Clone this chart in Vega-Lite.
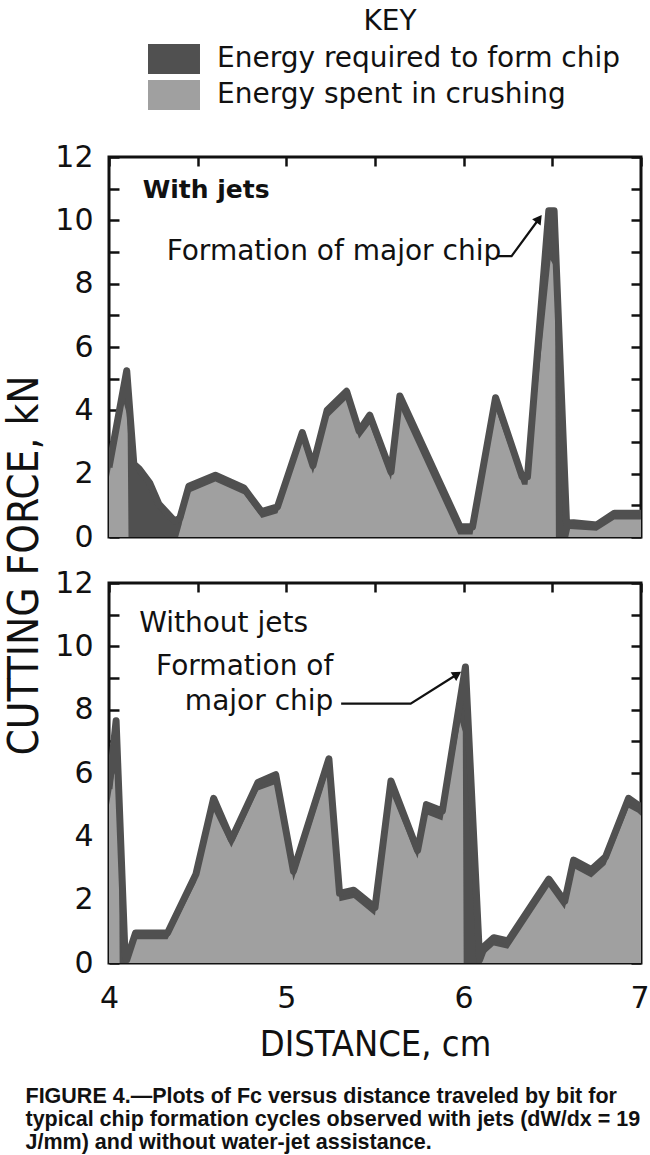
{
  "$schema": "https://vega.github.io/schema/vega-lite/v6.json",
  "background": "white",
  "padding": {"left": 1, "top": 8, "right": 0, "bottom": 5},
  "bounds": "flush",
  "spacing": 46,
  "datasets": {
    "curves": [
      {"panel":"with","series":"chip","x":4.00,"y":2.2},{"panel":"with","series":"chip","x":4.10,"y":5.25},{"panel":"with","series":"chip","x":4.14,"y":2.3},{"panel":"with","series":"chip","x":4.17,"y":2.15},{"panel":"with","series":"chip","x":4.23,"y":1.7},{"panel":"with","series":"chip","x":4.28,"y":1.05},{"panel":"with","series":"chip","x":4.37,"y":0.5},{"panel":"with","series":"chip","x":4.40,"y":0.6},{"panel":"with","series":"chip","x":4.45,"y":1.6},{"panel":"with","series":"chip","x":4.60,"y":1.95},{"panel":"with","series":"chip","x":4.76,"y":1.55},{"panel":"with","series":"chip","x":4.86,"y":0.8},{"panel":"with","series":"chip","x":4.95,"y":0.95},{"panel":"with","series":"chip","x":5.09,"y":3.3},{"panel":"with","series":"chip","x":5.15,"y":2.25},{"panel":"with","series":"chip","x":5.23,"y":4.0},{"panel":"with","series":"chip","x":5.34,"y":4.6},{"panel":"with","series":"chip","x":5.41,"y":3.35},{"panel":"with","series":"chip","x":5.47,"y":3.85},{"panel":"with","series":"chip","x":5.59,"y":2.05},{"panel":"with","series":"chip","x":5.64,"y":4.45},{"panel":"with","series":"chip","x":5.98,"y":0.32},{"panel":"with","series":"chip","x":6.05,"y":0.32},{"panel":"with","series":"chip","x":6.18,"y":4.4},{"panel":"with","series":"chip","x":6.33,"y":1.9},{"panel":"with","series":"chip","x":6.36,"y":1.9},{"panel":"with","series":"chip","x":6.48,"y":10.3},{"panel":"with","series":"chip","x":6.51,"y":10.3},{"panel":"with","series":"chip","x":6.58,"y":0.44},{"panel":"with","series":"chip","x":6.62,"y":0.45},{"panel":"with","series":"chip","x":6.75,"y":0.38},{"panel":"with","series":"chip","x":6.85,"y":0.75},{"panel":"with","series":"chip","x":7.00,"y":0.75},
      {"panel":"with","series":"crush","x":4.00,"y":1.9},{"panel":"with","series":"crush","x":4.08,"y":4.3},{"panel":"with","series":"crush","x":4.10,"y":3.9},{"panel":"with","series":"crush","x":4.105,"y":3.5},{"panel":"with","series":"crush","x":4.11,"y":0},{"panel":"with","series":"crush","x":4.39,"y":0},{"panel":"with","series":"crush","x":4.41,"y":0.4},{"panel":"with","series":"crush","x":4.45,"y":1.4},{"panel":"with","series":"crush","x":4.60,"y":1.75},{"panel":"with","series":"crush","x":4.76,"y":1.35},{"panel":"with","series":"crush","x":4.86,"y":0.6},{"panel":"with","series":"crush","x":4.95,"y":0.75},{"panel":"with","series":"crush","x":5.09,"y":3.0},{"panel":"with","series":"crush","x":5.15,"y":2.0},{"panel":"with","series":"crush","x":5.23,"y":3.75},{"panel":"with","series":"crush","x":5.34,"y":4.35},{"panel":"with","series":"crush","x":5.41,"y":3.1},{"panel":"with","series":"crush","x":5.47,"y":3.55},{"panel":"with","series":"crush","x":5.59,"y":1.8},{"panel":"with","series":"crush","x":5.64,"y":4.1},{"panel":"with","series":"crush","x":5.97,"y":0.08},{"panel":"with","series":"crush","x":6.05,"y":0.08},{"panel":"with","series":"crush","x":6.18,"y":4.05},{"panel":"with","series":"crush","x":6.33,"y":1.65},{"panel":"with","series":"crush","x":6.36,"y":1.65},{"panel":"with","series":"crush","x":6.49,"y":8.75},{"panel":"with","series":"crush","x":6.515,"y":8.5},{"panel":"with","series":"crush","x":6.52,"y":0},{"panel":"with","series":"crush","x":6.59,"y":0},{"panel":"with","series":"crush","x":6.60,"y":0.25},{"panel":"with","series":"crush","x":6.75,"y":0.2},{"panel":"with","series":"crush","x":6.85,"y":0.55},{"panel":"with","series":"crush","x":7.00,"y":0.55},
      {"panel":"without","series":"chip","x":4.00,"y":5.5},{"panel":"without","series":"chip","x":4.04,"y":7.65},{"panel":"without","series":"chip","x":4.09,"y":0.3},{"panel":"without","series":"chip","x":4.10,"y":0.1},{"panel":"without","series":"chip","x":4.15,"y":0.95},{"panel":"without","series":"chip","x":4.33,"y":0.95},{"panel":"without","series":"chip","x":4.49,"y":2.8},{"panel":"without","series":"chip","x":4.59,"y":5.2},{"panel":"without","series":"chip","x":4.69,"y":3.9},{"panel":"without","series":"chip","x":4.84,"y":5.7},{"panel":"without","series":"chip","x":4.94,"y":5.95},{"panel":"without","series":"chip","x":5.04,"y":2.9},{"panel":"without","series":"chip","x":5.24,"y":6.45},{"panel":"without","series":"chip","x":5.30,"y":2.2},{"panel":"without","series":"chip","x":5.38,"y":2.3},{"panel":"without","series":"chip","x":5.50,"y":1.75},{"panel":"without","series":"chip","x":5.59,"y":5.75},{"panel":"without","series":"chip","x":5.74,"y":3.55},{"panel":"without","series":"chip","x":5.79,"y":5.0},{"panel":"without","series":"chip","x":5.88,"y":4.8},{"panel":"without","series":"chip","x":6.01,"y":9.35},{"panel":"without","series":"chip","x":6.09,"y":0.1},{"panel":"without","series":"chip","x":6.12,"y":0.55},{"panel":"without","series":"chip","x":6.17,"y":0.8},{"panel":"without","series":"chip","x":6.25,"y":0.7},{"panel":"without","series":"chip","x":6.48,"y":2.65},{"panel":"without","series":"chip","x":6.57,"y":1.95},{"panel":"without","series":"chip","x":6.62,"y":3.25},{"panel":"without","series":"chip","x":6.72,"y":2.95},{"panel":"without","series":"chip","x":6.80,"y":3.35},{"panel":"without","series":"chip","x":6.93,"y":5.2},{"panel":"without","series":"chip","x":6.98,"y":5.0},{"panel":"without","series":"chip","x":7.00,"y":4.95},
      {"panel":"without","series":"crush","x":4.00,"y":5.0},{"panel":"without","series":"crush","x":4.03,"y":6.0},{"panel":"without","series":"crush","x":4.055,"y":5.5},{"panel":"without","series":"crush","x":4.06,"y":0},{"panel":"without","series":"crush","x":4.10,"y":0},{"panel":"without","series":"crush","x":4.11,"y":0.2},{"panel":"without","series":"crush","x":4.15,"y":0.75},{"panel":"without","series":"crush","x":4.33,"y":0.75},{"panel":"without","series":"crush","x":4.49,"y":2.55},{"panel":"without","series":"crush","x":4.59,"y":4.8},{"panel":"without","series":"crush","x":4.69,"y":3.65},{"panel":"without","series":"crush","x":4.84,"y":5.45},{"panel":"without","series":"crush","x":4.94,"y":5.65},{"panel":"without","series":"crush","x":5.04,"y":2.6},{"panel":"without","series":"crush","x":5.23,"y":5.95},{"panel":"without","series":"crush","x":5.30,"y":1.95},{"panel":"without","series":"crush","x":5.38,"y":2.05},{"panel":"without","series":"crush","x":5.50,"y":1.5},{"panel":"without","series":"crush","x":5.59,"y":5.35},{"panel":"without","series":"crush","x":5.74,"y":3.3},{"panel":"without","series":"crush","x":5.79,"y":4.7},{"panel":"without","series":"crush","x":5.88,"y":4.5},{"panel":"without","series":"crush","x":5.98,"y":7.6},{"panel":"without","series":"crush","x":5.995,"y":7.3},{"panel":"without","series":"crush","x":6.00,"y":0},{"panel":"without","series":"crush","x":6.10,"y":0},{"panel":"without","series":"crush","x":6.12,"y":0.3},{"panel":"without","series":"crush","x":6.17,"y":0.55},{"panel":"without","series":"crush","x":6.25,"y":0.45},{"panel":"without","series":"crush","x":6.48,"y":2.4},{"panel":"without","series":"crush","x":6.57,"y":1.7},{"panel":"without","series":"crush","x":6.62,"y":3.0},{"panel":"without","series":"crush","x":6.72,"y":2.7},{"panel":"without","series":"crush","x":6.80,"y":3.1},{"panel":"without","series":"crush","x":6.93,"y":4.9},{"panel":"without","series":"crush","x":6.98,"y":4.75},{"panel":"without","series":"crush","x":7.00,"y":4.65}
    ],
    "notes": [
      {"panel":"with","text":"With jets","x":4.19,"y":10.96},
      {"panel":"with","text":"Formation of major chip","x":4.325,"y":9.0},
      {"panel":"without","text":"Without jets","x":4.17,"y":10.69},
      {"panel":"without","text":"Formation of","x":5.265,"y":9.34},
      {"panel":"without","text":"major chip","x":5.265,"y":8.25}
    ],
    "leaders": [
      {"panel":"with","step":1,"x":6.193,"y":8.87},
      {"panel":"with","step":2,"x":6.27,"y":8.87},
      {"panel":"with","step":3,"x":6.425,"y":10.05},
      {"panel":"without","step":1,"x":5.309,"y":8.19},
      {"panel":"without","step":2,"x":5.701,"y":8.19},
      {"panel":"without","step":3,"x":5.964,"y":9.12}
    ]
  },
  "title": {
    "text": ["FIGURE 4.—Plots of Fc versus distance traveled by bit for", "typical chip formation cycles observed with jets (dW/dx = 19", "J/mm) and without water-jet assistance."],
    "orient": "bottom",
    "anchor": "start",
    "font": "Liberation Sans",
    "fontSize": 21.5,
    "fontWeight": "bold",
    "color": "#111",
    "lineHeight": 23,
    "dx": 24,
    "offset": 22
  },
  "vconcat": [
    {
      "width": 532,
      "height": 380,
      "layer": [
        {
          "data": {"name": "curves"},
          "transform": [{"filter": "datum.panel === 'with' && datum.series === 'chip'"}],
          "mark": {"type": "area", "interpolate": "linear", "clip": true},
          "encoding": {
            "x": {"field": "x", "type": "quantitative", "scale": {"domain": [4, 7], "nice": false, "zero": false}, "axis": null},
            "y": {"field": "y", "type": "quantitative", "stack": null, "scale": {"domain": [0, 12], "nice": false},
                  "axis": {"orient": "left", "values": [0,1,2,3,4,5,6,7,8,9,10,11,12], "labelExpr": "datum.value % 2 === 0 ? datum.label : ''", "tickSize": -10, "labelPadding": 26,
                           "title": "CUTTING FORCE, kN", "titleX": -85, "titleY": 408, "titleAngle": 270, "titleAlign": "center", "titleBaseline": "middle", "titleFontSize": 42}},
            "fill": {"field": "series", "type": "nominal", "scale": {"domain": ["chip", "crush"], "range": ["#505050", "#a0a0a0"]},
                     "legend": {"title": "KEY", "orient": "none", "legendX": 50, "legendY": -149, "direction": "vertical",
                                "labelExpr": "datum.label === 'chip' ? 'Energy required to form chip' : 'Energy spent in crushing'",
                                "symbolType": "M-1.733,-1H1.733V1H-1.733Z", "symbolSize": 900, "symbolStrokeWidth": 0, "symbolOpacity": 1,
                                "labelFont": "DejaVu Sans", "labelFontSize": 28, "labelColor": "#111", "labelOffset": 28, "labelLimit": 700,
                                "titleFont": "DejaVu Sans", "titleFontSize": 28, "titleFontWeight": "normal", "titleColor": "#111", "titleAnchor": "middle", "titlePadding": 8,
                                "rowPadding": 6, "padding": 0}}
          }
        },
        {
          "data": {"name": "curves"},
          "transform": [{"filter": "datum.panel === 'with' && datum.series === 'crush'"}],
          "mark": {"type": "area", "interpolate": "linear", "clip": true},
          "encoding": {
            "x": {"field": "x", "type": "quantitative", "scale": {"domain": [4, 7], "nice": false, "zero": false},
                  "axis": {"orient": "top", "values": [4, 4.5, 5, 5.5, 6, 6.5, 7], "labels": false, "tickSize": -9, "title": null}},
            "y": {"field": "y", "type": "quantitative", "stack": null, "scale": {"domain": [0, 12], "nice": false},
                  "axis": {"orient": "right", "values": [0,1,2,3,4,5,6,7,8,9,10,11,12], "labels": false, "tickSize": -10, "title": null}},
            "fill": {"field": "series", "type": "nominal", "scale": {"domain": ["chip", "crush"], "range": ["#505050", "#a0a0a0"]},
                     "legend": {"title": "KEY", "orient": "none", "legendX": 50, "legendY": -149, "direction": "vertical",
                                "labelExpr": "datum.label === 'chip' ? 'Energy required to form chip' : 'Energy spent in crushing'",
                                "symbolType": "M-1.733,-1H1.733V1H-1.733Z", "symbolSize": 900, "symbolStrokeWidth": 0, "symbolOpacity": 1,
                                "labelFont": "DejaVu Sans", "labelFontSize": 28, "labelColor": "#111", "labelOffset": 28, "labelLimit": 700,
                                "titleFont": "DejaVu Sans", "titleFontSize": 28, "titleFontWeight": "normal", "titleColor": "#111", "titleAnchor": "middle", "titlePadding": 8,
                                "rowPadding": 6, "padding": 0}}
          }
        },
        {
          "data": {"name": "curves"},
          "transform": [{"filter": "datum.panel === 'with' && datum.series === 'chip'"}],
          "mark": {"type": "line", "interpolate": "linear", "clip": true, "color": "#505050", "strokeWidth": 7, "strokeJoin": "round"},
          "encoding": {
            "x": {"field": "x", "type": "quantitative", "scale": {"domain": [4, 7], "nice": false, "zero": false}, "axis": null},
            "y": {"field": "y", "type": "quantitative", "scale": {"domain": [0, 12], "nice": false}, "axis": null}
          }
        },
        {
          "data": {"name": "notes"},
          "transform": [{"filter": "datum.panel === 'with' && datum.text === 'With jets'"}],
          "mark": {"type": "text", "align": "left", "baseline": "middle", "font": "DejaVu Sans", "fontSize": 25, "fontWeight": "bold", "color": "#111"},
          "encoding": {
            "x": {"field": "x", "type": "quantitative", "scale": {"domain": [4, 7], "nice": false, "zero": false}, "axis": null},
            "y": {"field": "y", "type": "quantitative", "scale": {"domain": [0, 12], "nice": false}, "axis": null},
            "text": {"field": "text"}
          }
        },
        {
          "data": {"name": "notes"},
          "transform": [{"filter": "datum.panel === 'with' && datum.text !== 'With jets'"}],
          "mark": {"type": "text", "align": "left", "baseline": "middle", "font": "DejaVu Sans", "fontSize": 28, "color": "#111"},
          "encoding": {
            "x": {"field": "x", "type": "quantitative", "scale": {"domain": [4, 7], "nice": false, "zero": false}, "axis": null},
            "y": {"field": "y", "type": "quantitative", "scale": {"domain": [0, 12], "nice": false}, "axis": null},
            "text": {"field": "text"}
          }
        },
        {
          "data": {"name": "leaders"},
          "transform": [{"filter": "datum.panel === 'with'"}],
          "mark": {"type": "line", "color": "#111", "strokeWidth": 2.2},
          "encoding": {
            "x": {"field": "x", "type": "quantitative", "scale": {"domain": [4, 7], "nice": false, "zero": false}, "axis": null},
            "y": {"field": "y", "type": "quantitative", "scale": {"domain": [0, 12], "nice": false}, "axis": null},
            "order": {"field": "step"}
          }
        },
        {
          "data": {"name": "leaders"},
          "transform": [{"filter": "datum.panel === 'with' && datum.step === 3"}],
          "mark": {"type": "point", "shape": "triangle-up", "filled": true, "color": "#111", "size": 110, "angle": 36, "opacity": 1},
          "encoding": {
            "x": {"field": "x", "type": "quantitative", "scale": {"domain": [4, 7], "nice": false, "zero": false}, "axis": null},
            "y": {"field": "y", "type": "quantitative", "scale": {"domain": [0, 12], "nice": false}, "axis": null}
          }
        }
      ],
      "resolve": {"axis": {"x": "independent", "y": "independent"}}
    },
    {
      "width": 532,
      "height": 380,
      "layer": [
        {
          "data": {"name": "curves"},
          "transform": [{"filter": "datum.panel === 'without' && datum.series === 'chip'"}],
          "mark": {"type": "area", "interpolate": "linear", "clip": true},
          "encoding": {
            "x": {"field": "x", "type": "quantitative", "scale": {"domain": [4, 7], "nice": false, "zero": false},
                  "axis": {"orient": "bottom", "values": [4, 5, 6, 7], "ticks": false, "labelPadding": 20, "labelFlush": false,
                           "labelAlign": {"condition": {"test": "datum.value === 7", "value": "right"}, "value": "center"},
                           "labelOffset": {"condition": {"test": "datum.value === 7", "value": 8}, "value": 0},
                           "title": "DISTANCE, cm", "titleFontSize": 36, "titlePadding": 14}},
            "y": {"field": "y", "type": "quantitative", "stack": null, "scale": {"domain": [0, 12], "nice": false},
                  "axis": {"orient": "left", "values": [0,1,2,3,4,5,6,7,8,9,10,11,12], "labelExpr": "datum.value % 2 === 0 ? datum.label : ''", "tickSize": -10, "labelPadding": 26, "title": null}},
            "fill": {"field": "series", "type": "nominal", "scale": {"domain": ["chip", "crush"], "range": ["#505050", "#a0a0a0"]},
                     "legend": {"title": "KEY", "orient": "none", "legendX": 50, "legendY": -149, "direction": "vertical",
                                "labelExpr": "datum.label === 'chip' ? 'Energy required to form chip' : 'Energy spent in crushing'",
                                "symbolType": "M-1.733,-1H1.733V1H-1.733Z", "symbolSize": 900, "symbolStrokeWidth": 0, "symbolOpacity": 1,
                                "labelFont": "DejaVu Sans", "labelFontSize": 28, "labelColor": "#111", "labelOffset": 28, "labelLimit": 700,
                                "titleFont": "DejaVu Sans", "titleFontSize": 28, "titleFontWeight": "normal", "titleColor": "#111", "titleAnchor": "middle", "titlePadding": 8,
                                "rowPadding": 6, "padding": 0}}
          }
        },
        {
          "data": {"name": "curves"},
          "transform": [{"filter": "datum.panel === 'without' && datum.series === 'crush'"}],
          "mark": {"type": "area", "interpolate": "linear", "clip": true},
          "encoding": {
            "x": {"field": "x", "type": "quantitative", "scale": {"domain": [4, 7], "nice": false, "zero": false},
                  "axis": {"orient": "top", "values": [4, 4.5, 5, 5.5, 6, 6.5, 7], "labels": false, "tickSize": -9, "title": null}},
            "y": {"field": "y", "type": "quantitative", "stack": null, "scale": {"domain": [0, 12], "nice": false},
                  "axis": {"orient": "right", "values": [0,1,2,3,4,5,6,7,8,9,10,11,12], "labels": false, "tickSize": -10, "title": null}},
            "fill": {"field": "series", "type": "nominal", "scale": {"domain": ["chip", "crush"], "range": ["#505050", "#a0a0a0"]},
                     "legend": {"title": "KEY", "orient": "none", "legendX": 50, "legendY": -149, "direction": "vertical",
                                "labelExpr": "datum.label === 'chip' ? 'Energy required to form chip' : 'Energy spent in crushing'",
                                "symbolType": "M-1.733,-1H1.733V1H-1.733Z", "symbolSize": 900, "symbolStrokeWidth": 0, "symbolOpacity": 1,
                                "labelFont": "DejaVu Sans", "labelFontSize": 28, "labelColor": "#111", "labelOffset": 28, "labelLimit": 700,
                                "titleFont": "DejaVu Sans", "titleFontSize": 28, "titleFontWeight": "normal", "titleColor": "#111", "titleAnchor": "middle", "titlePadding": 8,
                                "rowPadding": 6, "padding": 0}}
          }
        },
        {
          "data": {"name": "curves"},
          "transform": [{"filter": "datum.panel === 'without' && datum.series === 'chip'"}],
          "mark": {"type": "line", "interpolate": "linear", "clip": true, "color": "#505050", "strokeWidth": 7, "strokeJoin": "round"},
          "encoding": {
            "x": {"field": "x", "type": "quantitative", "scale": {"domain": [4, 7], "nice": false, "zero": false}, "axis": null},
            "y": {"field": "y", "type": "quantitative", "scale": {"domain": [0, 12], "nice": false}, "axis": null}
          }
        },
        {
          "data": {"name": "notes"},
          "transform": [{"filter": "datum.panel === 'without' && datum.text === 'Without jets'"}],
          "mark": {"type": "text", "align": "left", "baseline": "middle", "font": "DejaVu Sans", "fontSize": 28, "color": "#111"},
          "encoding": {
            "x": {"field": "x", "type": "quantitative", "scale": {"domain": [4, 7], "nice": false, "zero": false}, "axis": null},
            "y": {"field": "y", "type": "quantitative", "scale": {"domain": [0, 12], "nice": false}, "axis": null},
            "text": {"field": "text"}
          }
        },
        {
          "data": {"name": "notes"},
          "transform": [{"filter": "datum.panel === 'without' && datum.text !== 'Without jets'"}],
          "mark": {"type": "text", "align": "right", "baseline": "middle", "font": "DejaVu Sans", "fontSize": 28, "color": "#111"},
          "encoding": {
            "x": {"field": "x", "type": "quantitative", "scale": {"domain": [4, 7], "nice": false, "zero": false}, "axis": null},
            "y": {"field": "y", "type": "quantitative", "scale": {"domain": [0, 12], "nice": false}, "axis": null},
            "text": {"field": "text"}
          }
        },
        {
          "data": {"name": "leaders"},
          "transform": [{"filter": "datum.panel === 'without'"}],
          "mark": {"type": "line", "color": "#111", "strokeWidth": 2.2},
          "encoding": {
            "x": {"field": "x", "type": "quantitative", "scale": {"domain": [4, 7], "nice": false, "zero": false}, "axis": null},
            "y": {"field": "y", "type": "quantitative", "scale": {"domain": [0, 12], "nice": false}, "axis": null},
            "order": {"field": "step"}
          }
        },
        {
          "data": {"name": "leaders"},
          "transform": [{"filter": "datum.panel === 'without' && datum.step === 3"}],
          "mark": {"type": "point", "shape": "triangle-up", "filled": true, "color": "#111", "size": 110, "angle": 58, "opacity": 1},
          "encoding": {
            "x": {"field": "x", "type": "quantitative", "scale": {"domain": [4, 7], "nice": false, "zero": false}, "axis": null},
            "y": {"field": "y", "type": "quantitative", "scale": {"domain": [0, 12], "nice": false}, "axis": null}
          }
        }
      ],
      "resolve": {"axis": {"x": "independent", "y": "independent"}}
    }
  ],
  "resolve": {"scale": {"fill": "shared"}, "legend": {"fill": "shared"}},
  "config": {
    "view": {"stroke": "#111", "strokeWidth": 3},
    "axis": {"domain": false, "grid": false, "labelFont": "DejaVu Sans", "labelFontSize": 30, "labelColor": "#111", "tickColor": "#111", "tickWidth": 2.5,
             "titleFont": "DejaVu Sans Condensed", "titleFontWeight": "normal", "titleColor": "#111"}
  }
}
